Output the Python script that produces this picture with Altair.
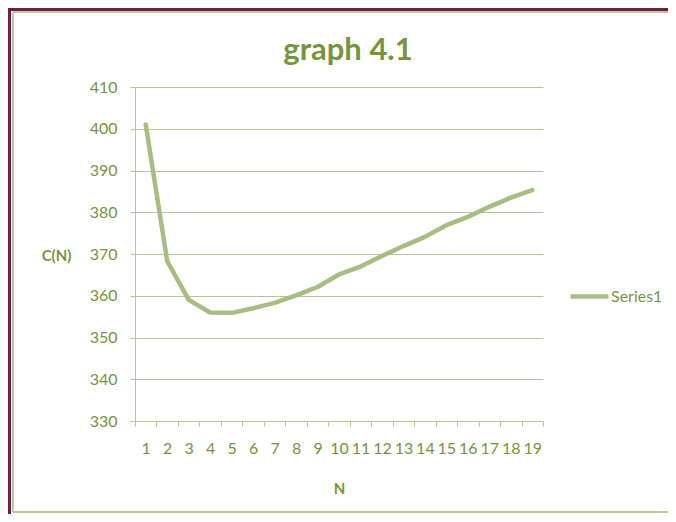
import altair as alt
import pandas as pd

# ---- data ----
n_values = list(range(1, 20))
c_values = [401.0, 368.3, 359.0, 356.0, 355.9, 357.0, 358.3, 360.1, 362.1, 365.1,
            367.0, 369.5, 371.9, 374.1, 376.9, 378.9, 381.3, 383.5, 385.3]
series_names = ["Series1"] * len(n_values)
y_ticks = [330, 340, 350, 360, 370, 380, 390, 400, 410]

df = pd.DataFrame({"N": n_values, "C": c_values, "series": series_names})

W, H = 408, 334
OLIVE = "#77933C"
GRID = "#B4C693"
LINE = "#A7BD81"
MAROON = "#741B47"
FRAME_GREEN = "#B9CB96"
FONT = "Lato"

line = alt.Chart(df).mark_line(strokeWidth=4.5, strokeJoin="round", strokeCap="round").encode(
    x=alt.X("N:O",
            scale=alt.Scale(type="band", paddingInner=0, paddingOuter=0),
            axis=alt.Axis(title="N", labelAngle=0, tickBand="extent", tickSize=5,
                          labelPadding=14, grid=False,
                          titleY=67, titleBaseline="middle")),
    y=alt.Y("C:Q",
            scale=alt.Scale(domain=[330, 410], nice=False, zero=False),
            axis=alt.Axis(values=y_ticks, title="C(N)", tickSize=5, labelPadding=13,
                          grid=True, titleAngle=0, titleX=-79, titleY=168,
                          titleAlign="center", titleBaseline="middle")),
    color=alt.Color("series:N", scale=alt.Scale(range=[LINE]),
                    legend=alt.Legend(title=None, orient="none", legendX=433, legendY=188,
                                      symbolType="stroke", symbolSize=1444,
                                      symbolStrokeWidth=4.5, labelOffset=0, padding=0,
                                      labelFont=FONT, labelFontSize=16, labelColor=OLIVE)),
)

frame_data = alt.Data(values=[{"k": 0}])
left_maroon = alt.Chart(frame_data).mark_rule(color=MAROON, strokeWidth=3).encode(
    x=alt.value(-125.5), y=alt.value(-79), y2=alt.value(H + 93))
top_maroon = alt.Chart(frame_data).mark_rule(color=MAROON, strokeWidth=3).encode(
    x=alt.value(-127), x2=alt.value(W + 125), y=alt.value(-77.5))
left_green = alt.Chart(frame_data).mark_rule(color=FRAME_GREEN, strokeWidth=2).encode(
    x=alt.value(-122), y=alt.value(-75), y2=alt.value(H + 91))
top_green = alt.Chart(frame_data).mark_rule(color=FRAME_GREEN, strokeWidth=2).encode(
    x=alt.value(-122), x2=alt.value(W + 125), y=alt.value(-75))
bottom_green = alt.Chart(frame_data).mark_rule(color=FRAME_GREEN, strokeWidth=2).encode(
    x=alt.value(-122), x2=alt.value(W + 125), y=alt.value(H + 91))

chart = alt.layer(line, left_maroon, top_maroon, left_green, top_green, bottom_green).properties(
    width=W, height=H,
    autosize=alt.AutoSizeParams(type="none"),
    padding={"left": 127, "top": 79, "right": 125, "bottom": 93},
    title=alt.TitleParams("graph 4.1", font=FONT, fontSize=31, fontWeight="bold",
                          color=OLIVE, anchor="middle", dx=9, offset=-60),
).configure(background="white").configure_view(strokeWidth=0).configure_axis(
    labelFont=FONT, labelFontSize=16, labelColor=OLIVE,
    titleFont=FONT, titleFontSize=15, titleFontWeight="bold", titleColor=OLIVE,
    domainColor=GRID, tickColor=GRID, gridColor=GRID,
    domainWidth=1, tickWidth=1, gridWidth=1,
)

chart.save("out.html", embed_options={"renderer": "svg", "actions": False})
